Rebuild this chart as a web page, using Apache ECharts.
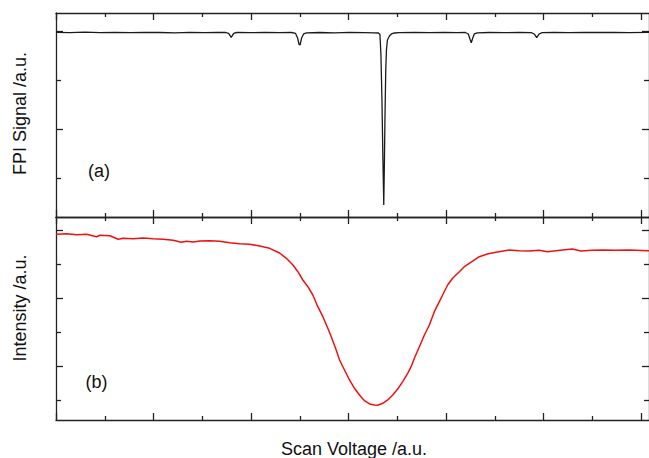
<!DOCTYPE html>
<html>
<head>
<meta charset="utf-8">
<script src="https://cdn.jsdelivr.net/npm/echarts@6/dist/echarts.min.js"></script>
<style>
  html, body { margin: 0; padding: 0; background: #ffffff; }
  #chart { width: 649px; height: 458px; }
</style>
</head>
<body>
<div id="chart"></div>
<script>
// ---- data (a.u.) ----
// Panel (a): FPI signal vs scan voltage
const fpiX = [0, 0.287, 0.594, 0.901, 1.208, 1.515, 1.822, 2.129, 2.436, 2.743, 3.050, 3.316, 3.480, 3.541, 3.593, 3.644, 3.705, 3.971, 4.278, 4.585, 4.831, 4.913, 4.954, 4.985, 5.005, 5.036, 5.077, 5.138, 5.404, 5.711, 6.018, 6.325, 6.530, 6.612, 6.643, 6.663, 6.684, 6.704, 6.721, 6.735, 6.745, 6.762, 6.776, 6.796, 6.837, 6.878, 6.940, 7.042, 7.349, 7.656, 7.963, 8.229, 8.393, 8.454, 8.495, 8.516, 8.546, 8.577, 8.639, 8.884, 9.191, 9.498, 9.744, 9.806, 9.857, 9.908, 9.969, 10.215, 10.522, 10.829, 11.136, 11.443, 11.750, 12.160];
const fpiY = [3.973, 3.967, 3.976, 3.965, 3.971, 3.967, 3.973, 3.969, 3.963, 3.971, 3.967, 3.973, 3.969, 3.949, 3.871, 3.953, 3.969, 3.965, 3.971, 3.967, 3.969, 3.949, 3.857, 3.724, 3.714, 3.857, 3.939, 3.963, 3.969, 3.963, 3.973, 3.967, 3.963, 3.959, 3.929, 3.510, 2.592, 1.367, 0.449, 1.367, 2.184, 3.204, 3.612, 3.816, 3.898, 3.939, 3.959, 3.967, 3.971, 3.965, 3.971, 3.967, 3.969, 3.939, 3.816, 3.761, 3.857, 3.939, 3.963, 3.969, 3.965, 3.973, 3.967, 3.939, 3.863, 3.939, 3.967, 3.971, 3.967, 3.973, 3.969, 3.973, 3.967, 3.971];

// Panel (b): intensity vs scan voltage
const intX = [0, 0.219, 0.424, 0.628, 0.833, 0.901, 1.105, 1.275, 1.378, 1.582, 1.787, 1.992, 2.197, 2.401, 2.573, 2.676, 2.811, 2.948, 3.152, 3.357, 3.562, 3.767, 3.971, 4.176, 4.381, 4.585, 4.723, 4.858, 4.960, 5.062, 5.165, 5.267, 5.369, 5.472, 5.574, 5.644, 5.746, 5.814, 5.916, 6.018, 6.121, 6.223, 6.326, 6.428, 6.530, 6.598, 6.700, 6.802, 6.905, 7.007, 7.110, 7.212, 7.282, 7.349, 7.451, 7.554, 7.656, 7.758, 7.861, 7.928, 8.031, 8.133, 8.270, 8.373, 8.475, 8.680, 8.844, 9.021, 9.294, 9.499, 9.703, 9.908, 10.078, 10.250, 10.385, 10.590, 10.762, 10.999, 11.204, 11.478, 11.750, 12.160];
const intY = [5.888, 5.906, 5.876, 5.888, 5.818, 5.859, 5.847, 5.741, 5.771, 5.759, 5.779, 5.759, 5.741, 5.712, 5.653, 5.682, 5.662, 5.691, 5.700, 5.685, 5.641, 5.612, 5.594, 5.544, 5.476, 5.338, 5.182, 4.985, 4.788, 4.544, 4.347, 4.103, 3.759, 3.465, 3.124, 2.876, 2.485, 2.191, 1.897, 1.603, 1.359, 1.162, 0.994, 0.897, 0.868, 0.862, 0.918, 1.015, 1.162, 1.338, 1.553, 1.800, 1.994, 2.241, 2.582, 2.926, 3.221, 3.612, 3.906, 4.103, 4.397, 4.594, 4.788, 4.935, 5.035, 5.229, 5.309, 5.359, 5.426, 5.406, 5.397, 5.418, 5.376, 5.406, 5.426, 5.456, 5.397, 5.418, 5.426, 5.418, 5.426, 5.406];

// Tick positions (no tick labels in the original)
const xMajorTicks = [0, 2, 4, 6, 8, 10, 12];
const xMinorTicks = [1, 3, 5, 7, 9, 11];
const fpiMajorTicks = [2, 4];
const fpiMinorTicks = [1, 3];
const intMajorTicks = [2, 4, 6];
const intMinorTicks = [1, 3, 5];

// Axis ranges
const xRange = [0, 12.16];
const fpiRange = [0.204, 4.367];
const intRange = [0.426, 6.397];

// Texts
const xTitle = 'Scan Voltage /a.u.';
const fpiTitle = 'FPI Signal /a.u.';
const intTitle = 'Intensity /a.u.';
const panelA = '(a)';
const panelB = '(b)';

// ---- chart ----
const FONT = '"Liberation Sans", Arial, Helvetica, sans-serif';
const AX = '#222222';

function xAx(grid, pos, ticks, len, line) {
  return {
    type: 'value', gridIndex: grid, position: pos, min: xRange[0], max: xRange[1],
    axisLine: { show: line, onZero: false, lineStyle: { color: AX, width: 1.3 } },
    axisTick: { show: true, inside: true, length: len, customValues: ticks, lineStyle: { color: AX, width: 1.3 } },
    axisLabel: { show: false }, splitLine: { show: false }
  };
}
function yAx(grid, pos, range, ticks, len, line) {
  return {
    type: 'value', gridIndex: grid, position: pos, min: range[0], max: range[1],
    axisLine: { show: line, onZero: false, lineStyle: { color: AX, width: 1.3 } },
    axisTick: { show: true, inside: true, length: len, customValues: ticks, lineStyle: { color: AX, width: 1.3 } },
    axisLabel: { show: false }, splitLine: { show: false }
  };
}

const LONG = 7, SHORT = 4;
const gTop = { left: 56, right: -1, top: 13, height: 204 };
const gBot = { left: 56, right: -1, top: 217, height: 203 };

const chart = echarts.init(document.getElementById('chart'), null, { renderer: 'svg' });
chart.setOption({
  animation: false,
  backgroundColor: '#ffffff',
  grid: [
    Object.assign({}, gTop), Object.assign({}, gTop),
    Object.assign({}, gBot), Object.assign({}, gBot)
  ],
  xAxis: [
    xAx(0, 'bottom', xMajorTicks, LONG, true), xAx(0, 'top', xMajorTicks, LONG, true),
    xAx(1, 'bottom', xMinorTicks, SHORT, false), xAx(1, 'top', xMinorTicks, SHORT, false),
    xAx(2, 'bottom', xMajorTicks, LONG, true), xAx(2, 'top', xMajorTicks, LONG, true),
    xAx(3, 'bottom', xMinorTicks, SHORT, false), xAx(3, 'top', xMinorTicks, SHORT, false)
  ],
  yAxis: [
    yAx(0, 'left', fpiRange, fpiMajorTicks, LONG, true), yAx(0, 'right', fpiRange, fpiMajorTicks, LONG, true),
    yAx(1, 'left', fpiRange, fpiMinorTicks, 5, false), yAx(1, 'right', fpiRange, fpiMinorTicks, 5, false),
    yAx(2, 'left', intRange, intMajorTicks, LONG, true), yAx(2, 'right', intRange, intMajorTicks, LONG, true),
    yAx(3, 'left', intRange, intMinorTicks, 5, false), yAx(3, 'right', intRange, intMinorTicks, 5, false)
  ],
  series: [
    {
      type: 'line', xAxisIndex: 0, yAxisIndex: 0, showSymbol: false, symbol: 'none',
      data: fpiX.map((x, i) => [x, fpiY[i]]),
      lineStyle: { color: '#1a1a1a', width: 1.3 }, z: 3
    },
    {
      type: 'line', xAxisIndex: 4, yAxisIndex: 4, showSymbol: false, symbol: 'none',
      data: intX.map((x, i) => [x, intY[i]]),
      lineStyle: { color: '#ee1111', width: 1.5 }, z: 3
    }
  ],
  graphic: [
    { type: 'text', x: 19.5, y: 113.5, rotation: Math.PI / 2,
      style: { text: fpiTitle, font: '18px ' + FONT, fill: '#111', align: 'center', verticalAlign: 'middle' } },
    { type: 'text', x: 19.5, y: 308, rotation: Math.PI / 2,
      style: { text: intTitle, font: '18px ' + FONT, fill: '#111', align: 'center', verticalAlign: 'middle' } },
    { type: 'text', x: 354, y: 449,
      style: { text: xTitle, font: '18px ' + FONT, fill: '#111', align: 'center', verticalAlign: 'middle' } },
    { type: 'text', x: 99, y: 171,
      style: { text: panelA, font: '18px ' + FONT, fill: '#111', align: 'center', verticalAlign: 'middle' } },
    { type: 'text', x: 96.5, y: 382,
      style: { text: panelB, font: '18px ' + FONT, fill: '#111', align: 'center', verticalAlign: 'middle' } }
  ]
});
</script>
</body>
</html>
